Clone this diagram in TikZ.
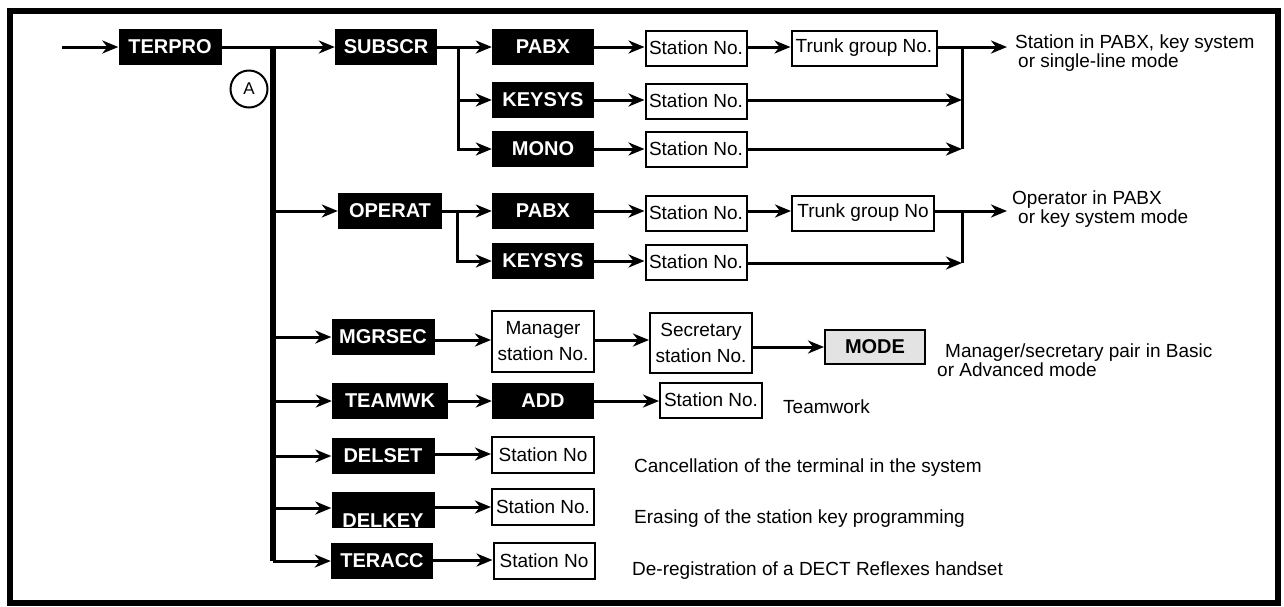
\documentclass[tikz,border=0pt]{standalone}
\usepackage{fontspec}
\setmainfont{Liberation Sans}
\usetikzlibrary{arrows.meta}

\begin{document}
\begin{tikzpicture}[
    x=1pt, y=-1pt,
    cmdbox/.style={
      rectangle, fill=black, text=white,
      minimum width=102pt, minimum height=36pt, inner sep=0pt,
      font=\bfseries\fontsize{20}{22}\selectfont
    },
    valbox/.style={
      rectangle, draw=black, line width=2pt, fill=white,
      minimum width=101pt, minimum height=35pt, inner sep=1pt,
      align=center, font=\fontsize{19}{26}\selectfont
    },
    modebox/.style={
      valbox, fill=gray!22, minimum width=100pt, minimum height=34pt,
      font=\bfseries\fontsize{20}{22}\selectfont
    },
    desc/.style={
      anchor=base west, inner sep=0pt, align=left,
      font=\fontsize{19}{19}\selectfont
    },
    arr/.style={-{Stealth[length=16pt, width=13pt, inset=5pt]}, line width=3pt},
    link/.style={line width=3pt},
    busline/.style={line width=6pt},
]
\useasboundingbox (0,0) rectangle (1284,606);

% ===== FRAME =====
\draw[line width=6pt] (10,11) rectangle (1278,603);

% ===== ENTRY AND MAIN BUS =====
\coordinate (in) at (62,47);
\coordinate (bus) at (273,47);
\node[cmdbox, minimum width=103pt] (terpro) at (170,47) {TERPRO};
\node[circle, draw, line width=2pt, minimum size=37pt, inner sep=0pt,
      font=\fontsize{17}{17}\selectfont] (markA) at (249,89) {A};

\draw[arr] (in) -- (terpro);
\draw[busline] (bus) -- (bus |- 0,561);

% ===== SUBSCR =====
\node[cmdbox] (subscr) at (386,47) {SUBSCR};
\node[cmdbox] (pabxA) at (543,47) {PABX};
\node[cmdbox] (keysysA) at (543,100) {KEYSYS};
\node[cmdbox] (monoA) at (543,149) {MONO};
\node[valbox] (stA) at (696,48) {Station No.};
\node[valbox] (stB) at (696,101) {Station No.};
\node[valbox] (stC) at (696,149) {Station No.};
\node[valbox, minimum width=145pt] (trunkA) at (864,48) {Trunk group No.};
\node[desc, inner xsep=8pt] (outA) at (1007,67)
  {Station in PABX, key system\\\hspace*{3pt}or single-line mode};
\coordinate (sbA) at (458,47);
\coordinate (colA) at (962,47);

\draw[arr] (terpro) -- (subscr);
\draw[arr] (subscr) -- (pabxA);
\draw[arr] (sbA) -- (sbA |- monoA) -- (monoA);
\draw[arr] (sbA |- keysysA) -- (keysysA);
\draw[arr] (pabxA) -- (stA.west |- pabxA);
\draw[arr] (keysysA) -- (stB.west |- keysysA);
\draw[arr] (monoA) -- (stC.west |- monoA);
\draw[arr] (stA.east |- pabxA) -- (trunkA.west |- pabxA);
\draw[arr] (trunkA.east |- pabxA) -- (colA -| outA.west);
\draw[arr] (stB.east |- keysysA) -- (colA |- keysysA);
\draw[arr] (stC.east |- monoA) -- (colA |- monoA);
\draw[link] (colA) -- (colA |- monoA);

% ===== OPERAT =====
\node[cmdbox, minimum width=104pt] (operat) at (390,211) {OPERAT};
\node[cmdbox] (pabxB) at (543,211) {PABX};
\node[cmdbox] (keysysB) at (543,261) {KEYSYS};
\node[valbox] (stD) at (696,213) {Station No.};
\node[valbox] (stE) at (696,262) {Station No.};
\node[valbox, minimum width=142pt] (trunkB) at (863,213) {Trunk group No};
\node[desc, inner xsep=5pt] (outB) at (1007,223)
  {Operator in PABX\\\hspace*{6pt}or key system mode};
\coordinate (sbB) at (457,211);
\coordinate (colB) at (962,211);

\draw[arr] (bus |- operat) -- (operat);
\draw[arr] (operat) -- (pabxB);
\draw[arr] (sbB) -- (sbB |- keysysB) -- (keysysB);
\draw[arr] (pabxB) -- (stD.west |- pabxB);
\draw[arr] (keysysB) -- (stE.west |- keysysB);
\draw[arr] (stD.east |- pabxB) -- (trunkB.west |- pabxB);
\draw[arr] (trunkB.east |- pabxB) -- (colB -| outB.west);
\draw[arr] (stE.east |- 0,263) -- (colB |- 0,263);
\draw[link] (colB) -- (colB |- 0,263);

% ===== MGRSEC =====
\node[cmdbox, minimum width=103pt] (mgrsec) at (383,337) {MGRSEC};
\node[valbox, minimum width=102pt, minimum height=61pt] (manager) at (543,341) {Manager\\station No.};
\node[valbox, minimum width=102pt, minimum height=60pt] (secretary) at (701,343) {Secretary\\station No.};
\node[modebox] (mode) at (875,347) {MODE};
\node[desc] (outC) at (937,376)
  {\hspace*{8pt}Manager/secretary pair in Basic\\or Advanced mode};

\draw[arr] (bus |- mgrsec) -- (mgrsec);
\draw[arr] (mgrsec.east |- 0,340) -- (manager.west |- 0,340);
\draw[arr] (manager.east |- 0,340) -- (secretary.west |- 0,340);
\draw[arr] (secretary.east |- mode) -- (mode);

% ===== TEAMWK =====
\node[cmdbox, minimum width=116pt] (teamwk) at (390,401) {TEAMWK};
\node[cmdbox] (add) at (543,401) {ADD};
\node[valbox, minimum width=102pt] (stF) at (711,400) {Station No.};
\node[desc] (outD) at (783,413) {Teamwork};

\draw[arr] (bus |- teamwk) -- (teamwk);
\draw[arr] (teamwk) -- (add);
\draw[arr] (add) -- (stF.west |- add);

% ===== DELSET / DELKEY / TERACC =====
\node[cmdbox, minimum width=103pt] (delset) at (383,456) {DELSET};
\node[cmdbox, minimum width=103pt, text height=34pt, text depth=0pt, inner ysep=1pt] (delkey) at (383,510) {DELKEY};
\node[cmdbox] (teracc) at (382,561) {TERACC};
\node[valbox, minimum width=102pt, minimum height=36pt] (stG) at (543,455) {Station No};
\node[valbox, minimum width=102pt, minimum height=36pt] (stH) at (543,507) {Station No.};
\node[valbox, minimum width=101pt, minimum height=36pt] (stI) at (544,561) {Station No};
\node[desc] (outE) at (634,472) {Cancellation of the terminal in the system};
\node[desc] (outF) at (634,523) {Erasing of the station key programming};
\node[desc] (outG) at (632,575) {De-registration of a DECT Reflexes handset};

\draw[arr] (bus |- delset) -- (delset);
\draw[arr] (bus |- 0,508) -- (delkey.west |- 0,508);
\draw[arr] (bus |- teracc) -- (teracc);
\draw[arr] (delset.east |- 0,454) -- (stG.west |- 0,454);
\draw[arr] (delkey.east |- 0,507) -- (stH.west |- 0,507);
\draw[arr] (teracc.east |- 0,560) -- (stI.west |- 0,560);

\end{tikzpicture}
\end{document}
